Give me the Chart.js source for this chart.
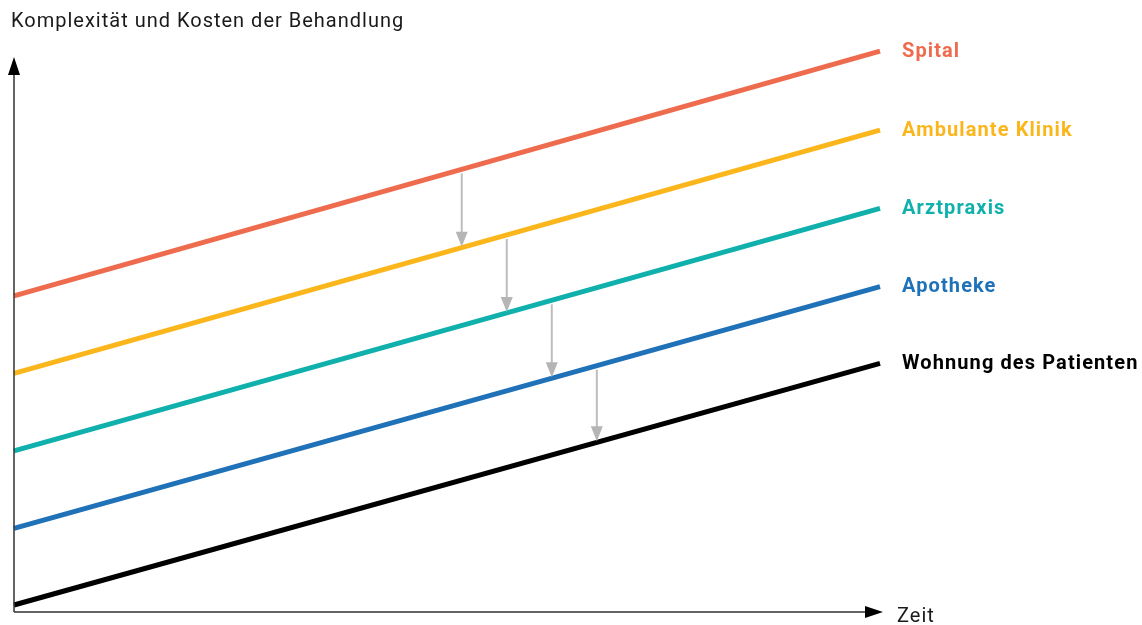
<!DOCTYPE html>
<html lang="de">
<head>
<meta charset="utf-8">
<script src="https://cdn.jsdelivr.net/npm/chart.js@4/dist/chart.umd.min.js"></script>
<style>
  html, body { margin: 0; padding: 0; background: #ffffff; }
  #wrap { width: 1142px; height: 625px; position: relative; }
</style>
</head>
<body>
<div id="wrap"><canvas id="c" width="1142" height="625"></canvas></div>
<script>
// Time axis (start and end of each line)
const zeit = [0, 10];

// Complexity / cost level of each care setting at start and end of the time span
const spital      = [4.08, 7.24];
const ambulant    = [3.08, 6.22];
const arztpraxis  = [2.08, 5.21];
const apotheke    = [1.08, 4.20];
const wohnung     = [0.09, 3.21];

const seriesNames = ['Spital', 'Ambulante Klinik', 'Arztpraxis', 'Apotheke', 'Wohnung des Patienten'];
const seriesValues = [spital, ambulant, arztpraxis, apotheke, wohnung];
const seriesColors = ['#ee6b4d', '#fbb61c', '#10b0ac', '#1f71b8', '#000000'];

// Shift arrows: position on the time axis where care moves one level down
const shiftAt = [5.17, 5.69, 6.21, 6.73];

const yTitle = 'Komplexität und Kosten der Behandlung';
const xTitle = 'Zeit';

const datasets = seriesNames.map((name, i) => ({
  label: name,
  data: zeit.map((x, j) => ({ x: x, y: seriesValues[i][j] })),
  borderColor: seriesColors[i],
  backgroundColor: seriesColors[i],
  borderWidth: 5,
  pointRadius: 0,
  tension: 0,
  clip: false
}));

function lineYAt(vals, x) {
  const t = (x - zeit[0]) / (zeit[1] - zeit[0]);
  return vals[0] + (vals[1] - vals[0]) * t;
}

const decorations = {
  id: 'decorations',
  afterDatasetsDraw(chart) {
    const ctx = chart.ctx;
    const xs = chart.scales.x, ys = chart.scales.y;
    const x0 = xs.getPixelForValue(zeit[0]);
    const y0 = ys.getPixelForValue(0);

    ctx.save();
    // Shift arrows between neighbouring levels
    ctx.strokeStyle = '#bdbdbd';
    ctx.fillStyle = '#b5b5b5';
    ctx.lineWidth = 2;
    shiftAt.forEach((sx, i) => {
      const px = xs.getPixelForValue(sx);
      const yTop = ys.getPixelForValue(lineYAt(seriesValues[i], sx)) + 4;
      const yBot = ys.getPixelForValue(lineYAt(seriesValues[i + 1], sx)) - 1;
      ctx.beginPath();
      ctx.moveTo(px, yTop);
      ctx.lineTo(px, yBot - 12);
      ctx.stroke();
      ctx.beginPath();
      ctx.moveTo(px - 6, yBot - 15);
      ctx.lineTo(px + 6, yBot - 15);
      ctx.lineTo(px, yBot);
      ctx.closePath();
      ctx.fill();
    });

    // Axes with arrowheads
    ctx.strokeStyle = '#333333';
    ctx.lineWidth = 1.5;
    ctx.beginPath();
    ctx.moveTo(x0, y0);
    ctx.lineTo(x0, 70);
    ctx.moveTo(x0, y0);
    ctx.lineTo(870, y0);
    ctx.stroke();
    ctx.fillStyle = '#000000';
    ctx.beginPath();
    ctx.moveTo(x0, 57);
    ctx.lineTo(x0 + 6, 75);
    ctx.lineTo(x0 - 6, 75);
    ctx.closePath();
    ctx.fill();
    ctx.beginPath();
    ctx.moveTo(883, y0);
    ctx.lineTo(865, y0 - 6);
    ctx.lineTo(865, y0 + 6);
    ctx.closePath();
    ctx.fill();

    // Axis titles
    ctx.font = '400 20px Roboto, sans-serif';
    ctx.letterSpacing = '1px';
    ctx.fillStyle = '#1a1a1a';
    ctx.textAlign = 'left';
    ctx.textBaseline = 'alphabetic';
    ctx.fillText(yTitle, 11, 27);
    ctx.fillText(xTitle, 897, 622);

    // Series labels at the right end of each line
    ctx.font = 'bold 20px Roboto, sans-serif';
    ctx.letterSpacing = '1.1px';
    ctx.textBaseline = 'middle';
    seriesNames.forEach((name, i) => {
      const ex = xs.getPixelForValue(zeit[1]);
      const ey = ys.getPixelForValue(seriesValues[i][1]);
      ctx.fillStyle = seriesColors[i];
      ctx.fillText(name, ex + 22, ey + 0.5);
    });
    ctx.restore();
  }
};

new Chart(document.getElementById('c'), {
  type: 'line',
  data: { datasets: datasets },
  options: {
    responsive: false,
    animation: false,
    layout: { padding: { left: 14, right: 262, top: 31, bottom: 13 } },
    scales: {
      x: { type: 'linear', min: 0, max: 10, display: false },
      y: { type: 'linear', min: 0, max: 7.5, display: false }
    },
    plugins: { legend: { display: false }, tooltip: { enabled: false } }
  },
  plugins: [decorations]
});
</script>
</body>
</html>
